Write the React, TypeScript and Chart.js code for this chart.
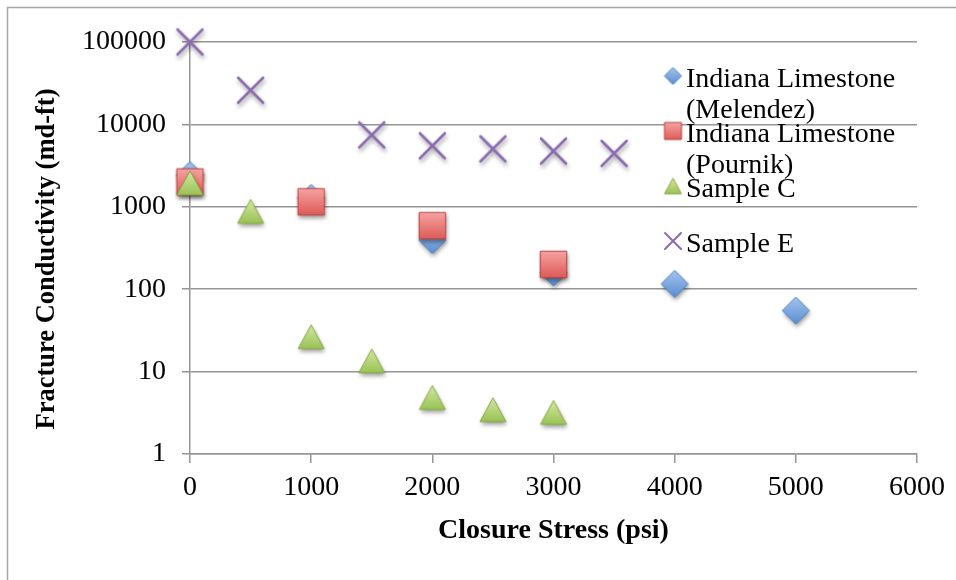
import { useEffect, useRef } from "react";
import { Chart, registerables } from "chart.js";

Chart.register(...registerables);

// Closure stress (psi) and fracture conductivity (md-ft) per sample
const seriesNames = [
  "Indiana Limestone (Melendez)",
  "Indiana Limestone (Pournik)",
  "Sample C",
  "Sample E",
];

const melendezStress = [0, 1000, 2000, 3000, 4000, 5000];
const melendezConductivity = [2430, 1285, 395, 160, 116, 55];

const pournikStress = [0, 1000, 2000, 3000];
const pournikConductivity = [2000, 1150, 590, 200];

const sampleCStress = [0, 500, 1000, 1500, 2000, 2500, 3000];
const sampleCConductivity = [1950, 880, 26.5, 13.5, 4.85, 3.45, 3.2];

const sampleEStress = [0, 500, 1500, 2000, 2500, 3000, 3500];
const sampleEConductivity = [100000, 26000, 7450, 5500, 5050, 4750, 4450];

const xTicks = [0, 1000, 2000, 3000, 4000, 5000, 6000];
const yTicks = [1, 10, 100, 1000, 10000, 100000];

const xTitle = "Closure Stress (psi)";
const yTitle = "Fracture Conductivity (md-ft)";

const FONT = "'Liberation Serif', 'Times New Roman', serif";
const GRID = "#959595";
const FRAME = "#a6a6a6";

type Shape = "diamond" | "square" | "triangle" | "cross";
type Palette = { top: string; bottom: string; edge: string };

const palettes: Record<Shape, Palette> = {
  diamond: { top: "#a3c4ee", bottom: "#5a8ed2", edge: "#4a7ebb" },
  square: { top: "#f6a3a1", bottom: "#dd5b57", edge: "#b8423f" },
  triangle: { top: "#d6eaa8", bottom: "#97c150", edge: "#86a846" },
  cross: { top: "#8a6bb0", bottom: "#8a6bb0", edge: "#8a6bb0" },
};

// Builds a marker bitmap centred in its canvas, optionally with a soft drop shadow
function makeMarker(shape: Shape, size: number, shadow: boolean): HTMLCanvasElement {
  const pad = shadow ? 9 : 3;
  const c = document.createElement("canvas");
  c.width = Math.ceil(size + pad * 2);
  c.height = Math.ceil(size + pad * 2);
  const ctx = c.getContext("2d")!;
  const cx = c.width / 2;
  const cy = c.height / 2;
  const h = size / 2;
  const p = palettes[shape];

  const setShadow = (on: boolean) => {
    if (on && shadow) {
      ctx.shadowColor = "rgba(0,0,0,0.38)";
      ctx.shadowBlur = 4;
      ctx.shadowOffsetX = 1;
      ctx.shadowOffsetY = 3;
    } else {
      ctx.shadowColor = "rgba(0,0,0,0)";
      ctx.shadowBlur = 0;
      ctx.shadowOffsetX = 0;
      ctx.shadowOffsetY = 0;
    }
  };

  if (shape === "cross") {
    setShadow(true);
    ctx.strokeStyle = p.edge;
    ctx.lineWidth = shadow ? 2.6 : 2;
    ctx.lineCap = "round";
    ctx.beginPath();
    ctx.moveTo(cx - h, cy - h);
    ctx.lineTo(cx + h, cy + h);
    ctx.moveTo(cx + h, cy - h);
    ctx.lineTo(cx - h, cy + h);
    ctx.stroke();
    return c;
  }

  ctx.beginPath();
  if (shape === "diamond") {
    ctx.moveTo(cx, cy - h);
    ctx.lineTo(cx + h, cy);
    ctx.lineTo(cx, cy + h);
    ctx.lineTo(cx - h, cy);
  } else if (shape === "square") {
    ctx.rect(cx - h, cy - h, size, size);
  } else {
    const hh = h * 0.92;
    ctx.moveTo(cx, cy - hh);
    ctx.lineTo(cx + h, cy + hh);
    ctx.lineTo(cx - h, cy + hh);
  }
  ctx.closePath();
  const g = ctx.createLinearGradient(0, cy - h, 0, cy + h);
  g.addColorStop(0, p.top);
  g.addColorStop(1, p.bottom);
  ctx.fillStyle = g;
  setShadow(true);
  ctx.fill();
  setShadow(false);
  ctx.strokeStyle = p.edge;
  ctx.lineWidth = 1;
  ctx.stroke();
  return c;
}

function wrapText(ctx: CanvasRenderingContext2D, text: string, maxWidth: number): string[] {
  const words = text.split(" ");
  const lines: string[] = [];
  let line = "";
  for (const w of words) {
    const test = line ? line + " " + w : w;
    if (line && ctx.measureText(test).width > maxWidth) {
      lines.push(line);
      line = w;
    } else {
      line = test;
    }
  }
  if (line) lines.push(line);
  return lines;
}

const toPoints = (xs: number[], ys: number[]) => xs.map((x, i) => ({ x, y: ys[i] }));

export default function App() {
  const ref = useRef<HTMLCanvasElement>(null);

  useEffect(() => {
    const canvas = ref.current;
    if (!canvas) return;

    const shapes: Shape[] = ["diamond", "square", "triangle", "cross"];
    const plotSizes = [27, 26.5, 26, 25];
    const plotMarkers = shapes.map((s, i) => makeMarker(s, plotSizes[i], true));
    const legendMarkers = shapes.map((s) => makeMarker(s, s === "cross" ? 16 : 17, false));

    const decorations = {
      id: "decorations",
      beforeDraw(chart: Chart) {
        const { ctx, width, height } = chart;
        ctx.save();
        ctx.fillStyle = "#ffffff";
        ctx.fillRect(0, 0, width, height);
        ctx.strokeStyle = FRAME;
        ctx.lineWidth = 1.5;
        ctx.strokeRect(7.5, 7.5, width + 20, height + 20);
        ctx.restore();
      },
      afterDraw(chart: Chart) {
        const { ctx, chartArea } = chart;
        ctx.save();

        // axis titles
        ctx.fillStyle = "#000000";
        ctx.font = `bold 28px ${FONT}`;
        ctx.textAlign = "center";
        ctx.textBaseline = "alphabetic";
        ctx.fillText(xTitle, (chartArea.left + chartArea.right) / 2, chartArea.bottom + 84);

        ctx.save();
        ctx.font = `bold 26.5px ${FONT}`;
        ctx.translate(chartArea.left - 136, (chartArea.top + chartArea.bottom) / 2 + 11);
        ctx.rotate(-Math.PI / 2);
        ctx.fillText(yTitle, 0, 0);
        ctx.restore();

        // legend inside the plot, entries on a fixed pitch
        ctx.font = `28px ${FONT}`;
        ctx.textAlign = "left";
        const markerX = chartArea.right - 244;
        const textX = chartArea.right - 231;
        const firstBaseline = chartArea.top + 44.5;
        const pitch = 55;
        const lineGap = 31.5;
        chart.data.datasets.forEach((ds, i) => {
          const base = firstBaseline + pitch * i;
          const img = legendMarkers[i];
          ctx.drawImage(img, markerX - img.width / 2, base - 10.5 - img.height / 2);
          const lines = wrapText(ctx, String(ds.label), 250);
          lines.forEach((ln, j) => ctx.fillText(ln, textX, base + j * lineGap));
        });

        ctx.restore();
      },
    };

    const chart = new Chart(canvas, {
      type: "scatter",
      data: {
        datasets: [
          { label: seriesNames[0], data: toPoints(melendezStress, melendezConductivity), pointStyle: plotMarkers[0], order: 4 },
          { label: seriesNames[1], data: toPoints(pournikStress, pournikConductivity), pointStyle: plotMarkers[1], order: 3 },
          { label: seriesNames[2], data: toPoints(sampleCStress, sampleCConductivity), pointStyle: plotMarkers[2], order: 2 },
          { label: seriesNames[3], data: toPoints(sampleEStress, sampleEConductivity), pointStyle: plotMarkers[3], order: 1 },
        ].map((d) => ({ ...d, pointRadius: 13, pointHoverRadius: 13, showLine: false, clip: false as const })),
      },
      options: {
        responsive: false,
        animation: false,
        devicePixelRatio: 1,
        layout: { padding: { left: 0, top: 42, right: 39, bottom: 0 } },
        plugins: {
          legend: { display: false },
          title: { display: false },
          tooltip: { enabled: false },
        },
        scales: {
          x: {
            type: "linear",
            min: 0,
            max: 6000,
            afterBuildTicks: (s: any) => {
              s.ticks = xTicks.map((v) => ({ value: v }));
            },
            afterFit: (s: any) => {
              s.height = 126;
            },
            grid: { drawOnChartArea: false, drawTicks: true, tickLength: 9, color: GRID, lineWidth: 1.5 },
            border: { display: true, color: GRID, width: 1.5 },
            ticks: {
              callback: (v: any) => String(v),
              font: { family: FONT, size: 28 },
              color: "#000000",
              padding: 8,
              maxRotation: 0,
              autoSkip: false,
            },
          },
          y: {
            type: "logarithmic",
            min: 1,
            max: 100000,
            afterBuildTicks: (s: any) => {
              s.ticks = yTicks.map((v) => ({ value: v }));
            },
            afterFit: (s: any) => {
              s.width = 190;
            },
            grid: { color: GRID, lineWidth: 1.5, tickLength: 8 },
            border: { display: true, color: GRID, width: 1.5 },
            ticks: {
              callback: (v: any) => String(v),
              font: { family: FONT, size: 28 },
              color: "#000000",
              padding: 16,
              autoSkip: false,
            },
          },
        },
      },
      plugins: [decorations],
    });

    return () => chart.destroy();
  }, []);

  return (
    <div style={{ position: "absolute", left: 0, top: 0, width: 956, height: 580 }}>
      <canvas ref={ref} width={956} height={580} style={{ display: "block", width: 956, height: 580 }} />
    </div>
  );
}
